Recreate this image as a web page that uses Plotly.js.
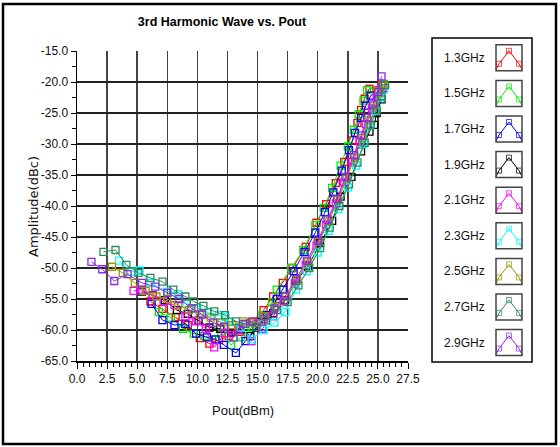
<!DOCTYPE html>
<html><head><meta charset="utf-8">
<script src="https://cdn.plot.ly/plotly-3.0.1.min.js"></script>
<style>html,body{margin:0;padding:0;background:#fff}#chart{width:560px;height:447px}</style>
</head><body><div id="chart"></div>
<script>
// ---- data ----
const seriesNames = ["1.3GHz","1.5GHz","1.7GHz","1.9GHz","2.1GHz","2.3GHz","2.5GHz","2.7GHz","2.9GHz"];
const seriesColors = ["#ff0000","#00ee00","#0000ff","#000000","#ff00ff","#00ffff","#999900","#2e8b57","#8a2be2"];

const pout13 = [6.1,7.1,8.2,9.2,10.2,11.0,11.8,12.6,13.5,14.5,15.5,16.3,17.1,17.9,19.0,19.9,20.7,21.5,22.2,22.9,23.3,23.6,23.9,24.3,25.3];
const amp13  = [-55.4,-56.6,-57.9,-59.2,-61.3,-62.2,-61.6,-61.0,-60.3,-58.7,-56.8,-54.6,-52.4,-50.0,-46.6,-42.7,-39.7,-36.3,-32.9,-29.4,-26.6,-24.5,-22.7,-21.1,-20.4];

const pout15 = [6.8,7.8,8.8,9.7,10.6,11.5,12.0,12.8,13.6,14.5,15.4,16.2,16.6,17.8,18.8,19.8,20.5,21.2,21.9,22.5,23.0,23.4,23.8,24.1,25.4];
const amp15  = [-57.1,-58.0,-59.8,-60.6,-61.0,-61.6,-60.5,-62.4,-61.2,-59.6,-57.6,-55.5,-53.5,-50.0,-47.1,-43.1,-40.3,-37.1,-33.5,-30.4,-27.7,-25.2,-23.0,-21.3,-20.6];

const pout17 = [6.2,7.1,8.1,9.0,9.9,10.8,11.5,12.2,13.2,14.0,14.9,15.8,16.6,17.1,18.0,18.9,19.8,20.6,21.3,22.0,22.6,23.1,23.6,24.0,24.4,25.5];
const amp17  = [-55.8,-58.4,-59.2,-59.0,-60.6,-61.2,-61.5,-62.4,-63.7,-61.8,-59.6,-57.6,-55.0,-53.5,-50.5,-47.4,-44.3,-41.0,-37.8,-34.3,-31.0,-28.2,-25.8,-23.8,-22.2,-21.0];

const pout19 = [5.4,6.3,7.3,8.3,9.2,10.1,11.0,11.9,12.8,13.6,14.4,15.3,16.3,17.3,18.2,19.2,20.2,21.2,21.9,22.8,23.6,24.3,24.7,24.9,25.3];
const amp19  = [-53.8,-54.4,-55.2,-56.8,-57.4,-58.5,-59.6,-59.8,-60.4,-59.9,-61.0,-58.7,-57.3,-55.2,-52.1,-49.7,-46.0,-42.4,-38.5,-35.3,-31.2,-28.0,-26.9,-25.0,-22.8];

const pout21 = [4.7,5.4,6.3,7.2,8.1,9.0,9.9,10.7,11.4,12.3,13.4,14.5,15.4,16.3,17.2,18.1,19.0,19.9,20.7,21.5,22.2,22.9,23.5,24.0,24.5,24.9,25.3];
const amp21  = [-53.7,-53.5,-54.5,-55.5,-56.0,-57.8,-58.6,-59.8,-62.8,-60.5,-60.0,-61.8,-59.8,-57.8,-55.3,-52.5,-49.5,-46.4,-43.0,-39.6,-36.2,-32.8,-29.6,-26.8,-24.3,-22.4,-21.0];

const pout23 = [3.5,4.5,5.2,6.1,7.5,8.4,9.1,10.0,10.9,11.8,12.3,12.7,13.6,14.5,15.5,16.4,17.3,18.2,19.1,20.0,20.9,21.7,22.5,23.2,23.8,24.3,24.8,25.2,25.5];
const amp23  = [-48.8,-50.6,-50.4,-52.4,-53.8,-54.2,-55.7,-56.5,-57.2,-57.6,-57.9,-58.7,-59.6,-61.5,-60.0,-58.8,-57.1,-53.5,-50.5,-47.5,-44.0,-40.5,-37.0,-33.5,-30.0,-27.0,-24.6,-22.6,-21.2];

const pout25 = [2.9,3.8,4.8,5.7,6.6,7.5,8.4,9.3,10.2,11.1,12.0,12.9,13.8,14.7,15.6,16.5,17.4,18.3,19.2,20.1,20.9,21.7,22.4,23.1,23.7,24.2,24.7,25.1,25.5];
const amp25  = [-49.8,-50.8,-52.4,-53.7,-54.6,-55.0,-56.0,-56.8,-57.5,-58.0,-58.8,-59.2,-58.6,-58.8,-57.8,-56.2,-54.6,-52.0,-49.0,-45.8,-42.5,-39.0,-35.6,-32.2,-29.0,-26.2,-23.8,-21.8,-20.3];

const pout27 = [2.2,3.2,4.1,5.1,6.1,7.1,8.0,9.0,9.7,10.5,11.4,12.3,13.2,14.0,14.9,15.7,16.6,17.5,18.4,19.3,20.2,21.0,21.8,22.6,23.3,23.9,24.4,24.9,25.3,25.6];
const amp27  = [-47.4,-47.1,-49.5,-50.8,-51.6,-52.2,-53.5,-54.6,-55.4,-56.1,-57.0,-57.6,-58.6,-59.0,-59.5,-58.5,-56.8,-55.5,-52.8,-50.0,-46.8,-43.5,-40.0,-36.5,-33.0,-29.8,-27.0,-24.5,-22.3,-20.5];

const pout29 = [1.2,2.1,3.1,4.2,5.4,6.5,7.5,8.5,9.5,10.4,11.3,12.2,13.0,13.8,14.6,15.5,16.4,17.3,18.2,19.1,20.0,20.8,21.6,22.3,23.0,23.6,24.1,24.6,25.0,25.3];
const amp29  = [-49.0,-50.2,-52.1,-51.0,-52.4,-53.0,-54.0,-55.0,-56.5,-57.5,-58.8,-59.5,-61.2,-59.0,-58.6,-58.2,-56.5,-54.5,-51.8,-48.8,-45.6,-42.2,-38.8,-35.3,-31.8,-28.6,-25.8,-23.6,-21.6,-19.1];

const seriesX = [pout13,pout15,pout17,pout19,pout21,pout23,pout25,pout27,pout29];
const seriesY = [amp13,amp15,amp17,amp19,amp21,amp23,amp25,amp27,amp29];

const yTickVals = [-15,-20,-25,-30,-35,-40,-45,-50,-55,-60,-65];
const yTickText = ["-15.0","-20.0","-25.0","-30.0","-35.0","-40.0","-45.0","-50.0","-55.0","-60.0","-65.0"];
const xTickVals = [0,2.5,5,7.5,10,12.5,15,17.5,20,22.5,25,27.5];
const xTickText = ["0.0","2.5","5.0","7.5","10.0","12.5","15.0","17.5","20.0","22.5","25.0","27.5"];

// ---- layout constants (pixels) ----
const W = 560, H = 447;
const plotL = 77, plotR = 408, plotT = 51, plotB = 361;
const legL = 432, legR = 532, legT = 38, legB = 362;
const iconCx = 509, rowY0 = 57.8, rowStep = 35.6, iconHalf = 13;
const px = v => v / W, py = v => 1 - v / H;

const traces = [];
seriesNames.forEach((name, i) => {
  traces.push({
    type: 'scatter', mode: 'lines+markers', name: name,
    x: seriesX[i], y: seriesY[i], xaxis: 'x', yaxis: 'y',
    line: {color: seriesColors[i], width: 1},
    marker: {symbol: 'square-open', size: 7, color: seriesColors[i], line: {width: 1.3, color: seriesColors[i]}},
    showlegend: false
  });
});

// legend icons drawn on a pixel-unit overlay axis
const shapes = [];
const annotations = [];
seriesNames.forEach((name, i) => {
  const cy = rowY0 + rowStep * i;
  traces.push({
    type: 'scatter', mode: 'lines+markers', xaxis: 'x2', yaxis: 'y2',
    x: [iconCx - 13, iconCx - 10, iconCx, iconCx + 10, iconCx + 13],
    y: [cy + 12, cy + 6, cy - 7, cy + 6, cy + 12],
    line: {color: seriesColors[i], width: 1},
    marker: {symbol: 'square-open', size: [0, 5, 5, 5, 0], color: seriesColors[i], line: {width: 1, color: seriesColors[i]}},
    showlegend: false, hoverinfo: 'skip'
  });
  shapes.push({type: 'rect', xref: 'paper', yref: 'paper',
    x0: px(iconCx - iconHalf), x1: px(iconCx + iconHalf), y0: py(cy - iconHalf), y1: py(cy + iconHalf),
    line: {color: '#444', width: 1.5}, fillcolor: 'rgba(0,0,0,0)'});
  annotations.push({xref: 'paper', yref: 'paper', x: px(487), y: py(cy), xanchor: 'right', yanchor: 'middle',
    text: name, showarrow: false, font: {family: 'Liberation Sans, Arial, sans-serif', size: 12, color: '#111'}});
});
shapes.push({type: 'rect', xref: 'paper', yref: 'paper', x0: px(legL), x1: px(legR), y0: py(legB), y1: py(legT),
  line: {color: '#000', width: 1.5}, fillcolor: 'rgba(0,0,0,0)'});
shapes.push({type: 'rect', xref: 'paper', yref: 'paper', x0: px(3), x1: px(556), y0: py(444), y1: py(4),
  line: {color: '#000', width: 2.5}, fillcolor: 'rgba(0,0,0,0)'});

// axis titles as annotations for exact placement
annotations.push({xref: 'paper', yref: 'paper', x: px((plotL + plotR) / 2), y: py(410), xanchor: 'center', yanchor: 'middle',
  text: 'Pout(dBm)', showarrow: false, font: {family: 'Liberation Sans, Arial, sans-serif', size: 13, color: '#111'}});
annotations.push({xref: 'paper', yref: 'paper', x: px(33), y: py(207), xanchor: 'center', yanchor: 'middle', textangle: -90,
  text: 'Amplitude(dBc)', showarrow: false, font: {family: 'DejaVu Sans, Verdana, sans-serif', size: 13, color: '#111'}});

const tickFont = {family: 'Liberation Sans, Arial, sans-serif', size: 12, color: '#111'};
const layout = {
  width: W, height: H,
  margin: {l: 0, r: 0, t: 0, b: 0},
  paper_bgcolor: '#fff', plot_bgcolor: 'rgba(0,0,0,0)',
  showlegend: false,
  title: {text: '<b>3rd Harmonic Wave vs. Pout</b>', x: px(222), y: py(22), xanchor: 'center', yanchor: 'middle',
    font: {family: 'Liberation Sans, Arial, sans-serif', size: 12.5, color: '#000'}},
  xaxis: {
    domain: [px(plotL), px(plotR)], range: [0, 27.5], automargin: false,
    tickmode: 'array', tickvals: xTickVals, ticktext: xTickText,
    ticks: 'outside', ticklen: 6, tickwidth: 1, tickcolor: '#000',
    minor: {dtick: 0.5, tick0: 0, ticks: 'outside', ticklen: 4, tickcolor: '#000', showgrid: false},
    showgrid: true, gridcolor: '#444', gridwidth: 1.5,
    showline: true, linecolor: '#000', linewidth: 1.5, mirror: false, zeroline: false,
    tickfont: tickFont
  },
  yaxis: {
    domain: [py(plotB), py(plotT)], range: [-65, -15], automargin: false,
    tickmode: 'array', tickvals: yTickVals, ticktext: yTickText,
    ticks: 'outside', ticklen: 5, tickwidth: 1, tickcolor: '#000',
    minor: {dtick: 2.5, tick0: -65, ticks: 'outside', ticklen: 4, tickcolor: '#000', showgrid: false},
    showgrid: true, gridcolor: '#222', gridwidth: 1.5,
    showline: true, linecolor: '#000', linewidth: 1.5, zeroline: false,
    tickfont: tickFont
  },
  xaxis2: {domain: [0, 1], range: [0, W], visible: false, fixedrange: true, anchor: 'y2'},
  yaxis2: {domain: [0, 1], range: [H, 0], visible: false, fixedrange: true, anchor: 'x2'},
  shapes: shapes,
  annotations: annotations
};

Plotly.newPlot('chart', traces, layout, {staticPlot: true, displayModeBar: false});
</script>
</body></html>
